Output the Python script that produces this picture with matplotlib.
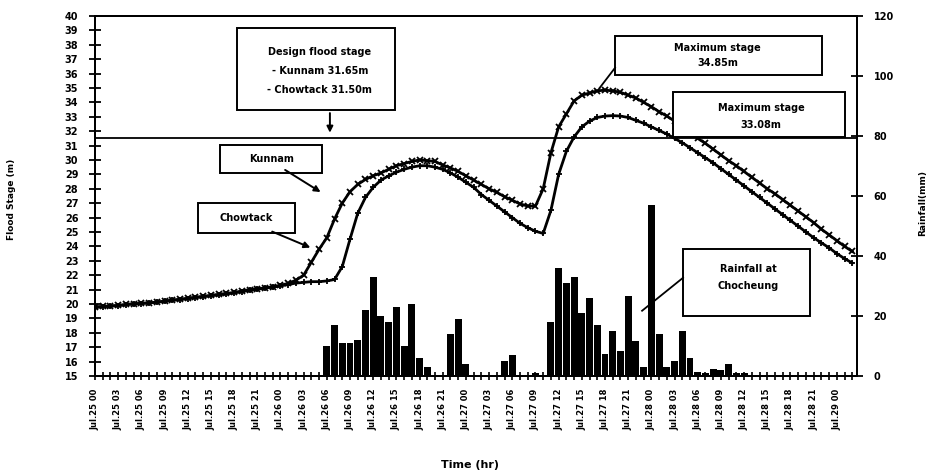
import matplotlib.pyplot as plt
import numpy as np
from matplotlib.patches import Rectangle

plt.rcParams['font.family'] = ['DejaVu Sans']

# hourly flood stage (m)
hours = np.arange(0, 99)
kunnam = [19.8, 19.83, 19.87, 19.9, 19.97, 20.02, 20.05, 20.08, 20.13, 20.2,
          20.27, 20.33, 20.4, 20.47, 20.53, 20.6, 20.67, 20.73, 20.8, 20.9,
          21.0, 21.05, 21.12, 21.2, 21.3, 21.43, 21.65, 22.0, 22.9, 23.8,
          24.6, 25.9, 27.0, 27.8, 28.3, 28.65, 28.9, 29.1, 29.35, 29.6,
          29.75, 29.9, 30.0, 29.95, 29.9, 29.65, 29.45, 29.2, 28.9, 28.6,
          28.3, 28.0, 27.75, 27.45, 27.2, 26.95, 26.8, 26.8, 28.0, 30.5,
          32.3, 33.2, 34.1, 34.5, 34.65, 34.8, 34.85, 34.8, 34.7, 34.5,
          34.3, 34.0, 33.7, 33.35, 33.05, 32.7, 32.3, 31.9, 31.5, 31.15,
          30.75, 30.35, 29.95, 29.6, 29.2, 28.8, 28.4, 28.0, 27.65, 27.25,
          26.85, 26.45, 26.05, 25.65, 25.2, 24.8, 24.4, 24.0, 23.65]
chowtack = [19.75, 19.8, 19.85, 19.88, 19.95, 20.0, 20.03, 20.07, 20.12, 20.18,
            20.25, 20.3, 20.37, 20.44, 20.5, 20.57, 20.63, 20.7, 20.77, 20.85,
            20.95, 21.02, 21.1, 21.17, 21.25, 21.35, 21.45, 21.5, 21.55, 21.55,
            21.6, 21.7, 22.6, 24.5, 26.3, 27.4, 28.1, 28.6, 28.9, 29.15,
            29.35, 29.5, 29.6, 29.6, 29.5, 29.35, 29.1, 28.8, 28.45, 28.1,
            27.6, 27.2, 26.8, 26.4, 26.0, 25.6, 25.3, 25.05, 24.9, 26.5,
            29.0, 30.6, 31.6, 32.3, 32.7, 32.95, 33.05, 33.08, 33.05, 32.95,
            32.75, 32.55, 32.3, 32.05, 31.8, 31.5, 31.2, 30.85, 30.5, 30.15,
            29.8, 29.4, 29.0, 28.6, 28.2, 27.8, 27.4, 27.0, 26.6, 26.2,
            25.8, 25.4, 25.0, 24.6, 24.25, 23.9, 23.5, 23.15, 22.85]

# hourly rainfall at Chocheung (mm)
rain_hours = np.arange(30, 86)
rain = [10, 17, 11, 11, 12, 22, 33, 20, 18, 23,
        10, 24, 6, 3, 0, 0, 14, 19, 4, 0,
        0, 0, 0, 5, 7, 0, 0, 1, 0, 18,
        36, 31, 33, 21, 26, 17, 7.4, 15, 8.4, 26.5,
        11.8, 3, 57, 14, 3, 5, 15, 6, 1.3, 1,
        2.4, 2, 4, 1, 1, 0]

design_stage = 31.5
tick_hours = np.arange(0, 97, 3)
tick_labels = [f"Jul.{25 + h // 24} {h % 24:02d}" for h in tick_hours]

fig = plt.figure(figsize=(9.36, 4.74), dpi=100)
ax = fig.add_axes([0.1015, 0.2068, 0.814, 0.7595])
ax2 = ax.twinx()

# rainfall bars on the right axis
ax2.bar(rain_hours, rain, width=0.9, color='black')
ax2.set_ylim(0, 120)
ax2.set_yticks(range(0, 121, 20))
ax2.tick_params(axis='y', direction='inout', length=8, width=1.3, labelsize=7, pad=8)
for lab in ax2.get_yticklabels():
    lab.set_fontweight('bold')

ax.set_zorder(ax2.get_zorder() + 1)
ax.patch.set_visible(False)

ax.plot(hours, kunnam, color='black', lw=2, marker='x', ms=4, mew=1.3)
ax.plot(hours, chowtack, color='black', lw=2, marker='+', ms=4.5, mew=1.3)
ax.axhline(design_stage, color='black', lw=1.3)

ax.set_xlim(0, 98.6)
ax.set_ylim(15, 40)
ax.set_yticks(range(15, 41))
ax.tick_params(axis='y', direction='inout', length=8, width=1.3, labelsize=7, pad=8)
for lab in ax.get_yticklabels():
    lab.set_fontweight('bold')
ax.set_xticks(tick_hours)
ax.set_xticks(hours, minor=True)
ax.set_xticklabels(tick_labels, rotation=90, fontsize=6, fontweight='bold')
ax.tick_params(axis='x', which='both', direction='inout', length=6, width=1.2, pad=6)
for sp in list(ax.spines.values()) + list(ax2.spines.values()):
    sp.set_linewidth(1.4)


def draw_box(x0, x1, y0, y1):
    ax.add_patch(Rectangle((x0, y0), x1 - x0, y1 - y0, facecolor='white',
                           edgecolor='black', lw=1.4, zorder=5))


def box_text(x, y, s):
    ax.text(x, y, s, ha='center', va='center', fontsize=7, fontweight='bold', zorder=6)


def arrow(start, tip):
    ax.annotate('', xy=tip, xytext=start, zorder=6,
                arrowprops=dict(arrowstyle='-|>', color='black', lw=1.4, mutation_scale=9))


# design flood stage note
draw_box(18.4, 38.8, 33.45, 39.16)
box_text(29.1, 37.5, 'Design flood stage')
box_text(29.1, 36.2, '- Kunnam 31.65m')
box_text(29.1, 34.85, '- Chowtack 31.50m')
arrow((30.4, 33.45), (30.4, 31.7))

# maximum stages
draw_box(67.3, 94.1, 35.89, 38.61)
box_text(80.6, 37.75, 'Maximum stage')
box_text(80.6, 36.7, '34.85m')
ax.plot([67.3, 65.3], [36.4, 35.0], color='black', lw=1.3, zorder=6)

draw_box(74.8, 97.05, 31.6, 34.7)
box_text(86.2, 33.6, 'Maximum stage')
box_text(86.2, 32.4, '33.08m')

# station labels
draw_box(16.2, 29.4, 29.07, 31.02)
box_text(22.8, 30.04, 'Kunnam')
arrow((24.3, 29.41), (29.5, 27.67))

draw_box(13.3, 25.9, 24.96, 26.98)
box_text(19.6, 25.97, 'Chowtack')
arrow((22.6, 25.1), (28.2, 23.84))

# rainfall station note
draw_box(76.1, 92.5, 19.18, 23.84)
box_text(84.5, 22.45, 'Rainfall at')
box_text(84.5, 21.25, 'Chocheung')
ax.plot([76.1, 70.8], [21.82, 19.53], color='black', lw=1.3, zorder=6)

fig.text(0.012, 0.58, 'Flood Stage (m)', rotation=90, ha='center', va='center',
         fontsize=6.5, fontweight='bold')
fig.text(0.986, 0.572, 'Rainfall(mm)', rotation=90, ha='center', va='center',
         fontsize=6.5, fontweight='bold')
fig.text(0.502, 0.019, 'Time (hr)', ha='center', va='center', fontsize=8, fontweight='bold')

fig.savefig('out.png', dpi=100)
